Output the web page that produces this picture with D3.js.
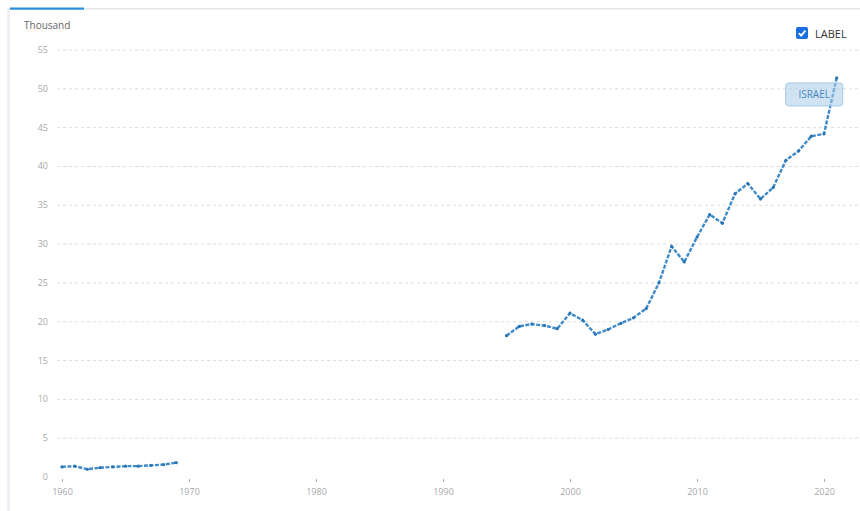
<!DOCTYPE html>
<html>
<head>
<meta charset="utf-8">
<script src="https://cdn.jsdelivr.net/npm/d3@7"></script>
<style>
  body { margin: 0; background: #fff; font-family: "Open Sans", sans-serif; }
</style>
</head>
<body>
<div id="d3-container"></div>
<script>
/**
 * CONSTANTS AND GLOBALS
 * */
const width = 860,
  height = 511;

// series data (thousand), gap 1970-1994 has no values
const years1 = [1960, 1961, 1962, 1963, 1964, 1965, 1966, 1967, 1968, 1969];
const values1 = [1.3, 1.4, 1.0, 1.2, 1.3, 1.4, 1.4, 1.5, 1.6, 1.85];

const years2 = [1995, 1996, 1997, 1998, 1999, 2000, 2001, 2002, 2003, 2004, 2005,
  2006, 2007, 2008, 2009, 2010, 2011, 2012, 2013, 2014, 2015, 2016, 2017, 2018, 2019, 2020, 2021];
const values2 = [18.2, 19.4, 19.7, 19.5, 19.1, 21.1, 20.2, 18.4, 19.0, 19.8, 20.5,
  21.7, 25.0, 29.7, 27.7, 30.9, 33.8, 32.7, 36.5, 37.8, 35.8, 37.3, 40.8, 42.0, 43.9, 44.2, 51.4];

const yTicks = [0, 5, 10, 15, 20, 25, 30, 35, 40, 45, 50, 55];
const xTicks = [1960, 1970, 1980, 1990, 2000, 2010, 2020];
const seriesName = "ISRAEL";
const unitLabel = "Thousand";
const legendLabel = "LABEL";

const lineColor = "#3f8ac9";

const svg = d3.select("#d3-container")
  .append("svg")
  .attr("width", width)
  .attr("height", height);

// frame: top border with blue tab, left border
svg.append("rect").attr("x", 8).attr("y", 8).attr("width", width - 8).attr("height", 1.5).attr("fill", "#e3e7ec");
svg.append("rect").attr("x", 10).attr("y", 7.5).attr("width", 74).attr("height", 2.2).attr("fill", "#2b8fe0");
svg.append("rect").attr("x", 7).attr("y", 9).attr("width", 3).attr("height", height - 9).attr("fill", "#eceff3");

const x = d3.scaleLinear().domain([1960, 2020]).range([62, 824]);
const y = d3.scaleLinear().domain([0, 55]).range([477, 50]);

// gridlines
svg.selectAll("line.grid")
  .data(yTicks.filter(d => d > 0))
  .join("line")
  .attr("class", "grid")
  .attr("x1", 57).attr("x2", width)
  .attr("y1", d => y(d)).attr("y2", d => y(d))
  .attr("stroke", "#dcdcdc")
  .attr("stroke-width", 1)
  .attr("stroke-dasharray", "3,3");

// y labels
svg.selectAll("text.ytick")
  .data(yTicks)
  .join("text")
  .attr("class", "ytick")
  .attr("x", 48)
  .attr("y", d => y(d) + 3)
  .attr("text-anchor", "end")
  .attr("font-size", 9)
  .attr("fill", "#a8a8a8")
  .text(d => d);

svg.append("text")
  .attr("x", 24).attr("y", 29)
  .attr("font-size", 10)
  .attr("fill", "#666")
  .text(unitLabel);

// x axis
const xAxis = svg.append("g")
  .attr("transform", "translate(0,479)")
  .call(d3.axisBottom(x).tickValues(xTicks).tickFormat(d3.format("d")).tickSize(3).tickPadding(7));
xAxis.select(".domain").remove();
xAxis.selectAll("line").attr("stroke", "#aaa");
xAxis.selectAll("text").attr("fill", "#a8a8a8").attr("font-size", 9).attr("font-family", "Open Sans, sans-serif");

// lines
const line = d3.line().x(d => x(d[0])).y(d => y(d[1]));
const segs = [d3.zip(years1, values1), d3.zip(years2, values2)];

svg.selectAll("path.series")
  .data(segs)
  .join("path")
  .attr("class", "series")
  .attr("fill", "none")
  .attr("stroke", lineColor)
  .attr("stroke-width", 2.4)
  .attr("stroke-dasharray", "4,1.5")
  .attr("d", line);

svg.selectAll("circle.pt")
  .data(segs.flat())
  .join("circle")
  .attr("class", "pt")
  .attr("cx", d => x(d[0]))
  .attr("cy", d => y(d[1]))
  .attr("r", 1.6)
  .attr("fill", "#2d74b5");

// series label
const last = segs[1][segs[1].length - 1];
const lbl = svg.append("g").attr("transform", `translate(${x(last[0]) - 51},${y(last[1]) + 5})`);
lbl.append("rect")
  .attr("width", 57).attr("height", 23).attr("rx", 3)
  .attr("fill", "rgba(170,204,232,0.55)")
  .attr("stroke", "#a6c8e6");
lbl.append("text")
  .attr("x", 28.5).attr("y", 15.5)
  .attr("text-anchor", "middle")
  .attr("font-size", 10)
  .attr("fill", "#4a86c0")
  .text(seriesName);

// legend checkbox
const lg = svg.append("g").attr("transform", "translate(796,27)");
lg.append("rect").attr("width", 12).attr("height", 12).attr("rx", 2).attr("fill", "#1a6fe0");
lg.append("path").attr("d", "M2.8,6.2 L5.2,8.6 L9.4,3.6").attr("fill", "none").attr("stroke", "#fff").attr("stroke-width", 1.8);
lg.append("text").attr("x", 19).attr("y", 10.5).attr("font-size", 11).attr("fill", "#333").text(legendLabel);
</script>
</body>
</html>
